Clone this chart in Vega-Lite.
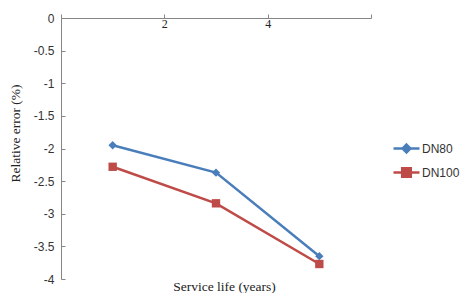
{
  "$schema": "https://vega.github.io/schema/vega-lite/v6.json",
  "width": 310,
  "height": 261,
  "autosize": {"type": "none"},
  "padding": {"left": 61, "top": 18, "right": 89, "bottom": 14},
  "background": "white",
  "config": {
    "view": {"stroke": null},
    "axis": {"grid": false, "domainColor": "#868686", "tickColor": "#868686", "domainWidth": 1}
  },
  "data": {"values": [
    {"life": 1, "err": -1.95, "pipe": "DN80"},
    {"life": 3, "err": -2.37, "pipe": "DN80"},
    {"life": 5, "err": -3.65, "pipe": "DN80"},
    {"life": 1, "err": -2.28, "pipe": "DN100"},
    {"life": 3, "err": -2.84, "pipe": "DN100"},
    {"life": 5, "err": -3.77, "pipe": "DN100"}
  ]},
  "encoding": {
    "x": {"field": "life", "type": "quantitative",
      "scale": {"domain": [0, 6], "nice": false, "zero": false},
      "axis": {"orient": "bottom", "offset": -261, "values": [0, 2, 4, 6], "tickSize": -4,
        "labelExpr": "datum.value == 2 || datum.value == 4 ? datum.label : ''",
        "labelFont": "Liberation Serif", "labelFontSize": 12, "labelColor": "#222", "labelPadding": 4,
        "title": "Service life (years)", "titleFont": "Liberation Serif", "titleFontSize": 13.5, "titleFontWeight": "normal", "titleColor": "#222",
        "titleX": 163, "titleAlign": "center", "titleY": 268, "titleBaseline": "middle"}},
    "y": {"field": "err", "type": "quantitative",
      "scale": {"domain": [-4, 0], "nice": false},
      "axis": {"values": [0, -0.5, -1, -1.5, -2, -2.5, -3, -3.5, -4], "tickSize": -4,
        "labelExpr": "'' + datum.value",
        "labelFont": "Liberation Sans", "labelFontSize": 12, "labelColor": "#333", "labelPadding": 11,
        "title": "Relative error (%)", "titleFont": "Liberation Serif", "titleFontSize": 13.5, "titleFontWeight": "normal", "titleColor": "#222",
        "titleX": -46, "titleY": 115, "titleAlign": "center", "titleBaseline": "middle"}},
    "color": {"field": "pipe", "type": "nominal",
      "scale": {"domain": ["DN80", "DN100"], "range": ["#4a7ebb", "#be4b48"]}}
  },
  "layer": [
    {"mark": {"type": "line", "strokeWidth": 2.5},
     "encoding": {"color": {"field": "pipe", "type": "nominal",
        "scale": {"domain": ["DN80", "DN100"], "range": ["#4a7ebb", "#be4b48"]},
        "legend": {"title": null, "orient": "none", "legendX": 331, "legendY": 116,
          "symbolSize": 676, "symbolStrokeWidth": 2.5, "labelFont": "Liberation Sans", "labelFontSize": 12, "labelColor": "#333",
          "labelOffset": 1, "rowPadding": -1,
          "encode": {"symbols": {"update": {
            "shape": {"signal": "datum.value === 'DN80' ? 'M-1,0L1,0M0,-0.3L0.3,0L0,0.3L-0.3,0Z' : 'M-1,0L1,0M-0.33,-0.33L0.33,-0.33L0.33,0.33L-0.33,0.33Z'"},
            "fill": {"signal": "datum.value === 'DN80' ? '#4a7ebb' : '#be4b48'"},
            "stroke": {"signal": "datum.value === 'DN80' ? '#4a7ebb' : '#be4b48'"},
            "fillOpacity": {"value": 1},
            "strokeWidth": {"value": 2.5}
          }}}}}}},
    {"mark": {"type": "point", "filled": true, "opacity": 1},
     "encoding": {
       "shape": {"condition": {"test": "datum.pipe === 'DN80'", "value": "diamond"}, "value": "square"},
       "size": {"value": 70},
       "color": {"field": "pipe", "type": "nominal", "legend": null}}}
  ]
}
